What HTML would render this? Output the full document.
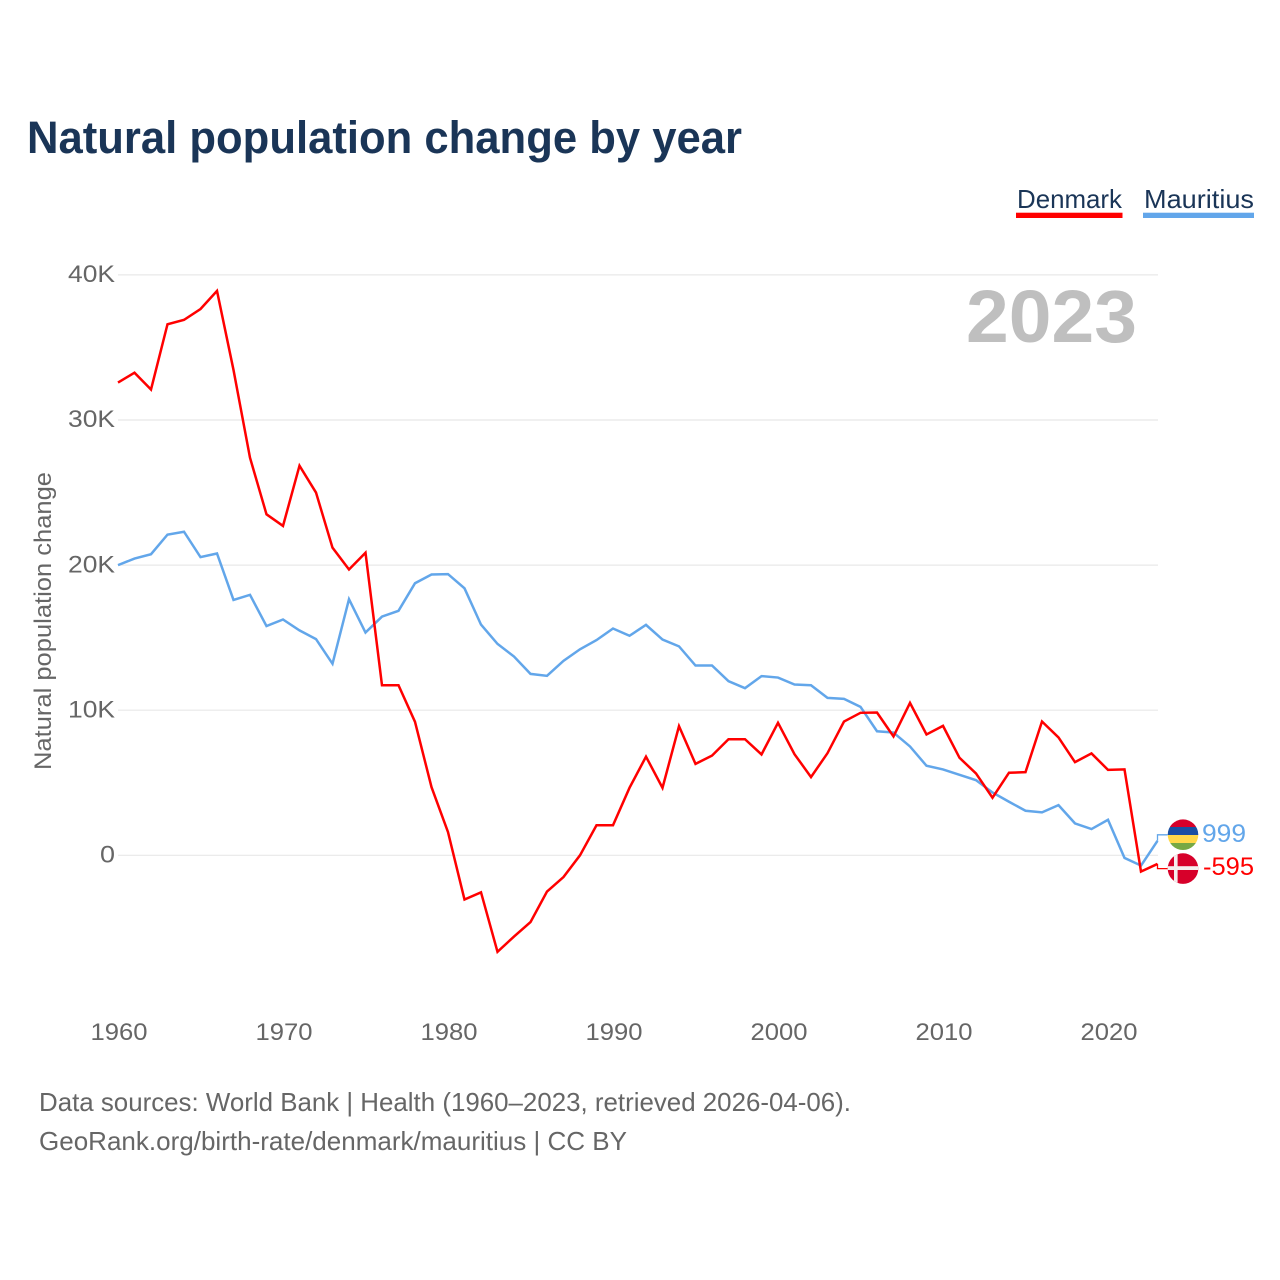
<!DOCTYPE html>
<html lang="en">
<head>
<meta charset="utf-8">
<title>Natural population change by year</title>
<style>
html,body{margin:0;padding:0;background:#fff;}
#chart{display:block;width:1280px;height:1280px;font-family:"Liberation Sans",sans-serif;}
</style>
</head>
<body>
<svg id="chart" xmlns="http://www.w3.org/2000/svg" width="1280" height="1280" viewBox="0 0 1280 1280">
  <defs>
    <clipPath id="clip-mu"><circle cx="1183" cy="834.7" r="15.3"/></clipPath>
    <clipPath id="clip-dk"><circle cx="1183" cy="868.6" r="15.3"/></clipPath>
  </defs>
  <rect width="1280" height="1280" fill="#ffffff"/>
  <text x="27" y="153" font-size="45" font-weight="700" fill="#1a3557" textLength="715" lengthAdjust="spacingAndGlyphs">Natural population change by year</text>

  <g id="grid"></g>
  <g id="y-axis"></g>
  <g id="x-axis"></g>

  <text x="1137" y="342" text-anchor="end" font-size="74" font-weight="700" fill="#bfbfbf" textLength="171" lengthAdjust="spacingAndGlyphs">2023</text>

  <text transform="translate(51,621) rotate(-90)" text-anchor="middle" font-size="24" fill="#666666" textLength="298" lengthAdjust="spacingAndGlyphs">Natural population change</text>

  <g id="series"></g>

  <g>
    <text x="1017" y="208" font-size="26" fill="#1a3557" textLength="105" lengthAdjust="spacingAndGlyphs">Denmark</text>
    <rect x="1016" y="212.7" width="106.5" height="5.3" fill="#ff0000"/>
  </g>
  <g>
    <text x="1144" y="208" font-size="26" fill="#1a3557" textLength="110" lengthAdjust="spacingAndGlyphs">Mauritius</text>
    <rect x="1143" y="212.7" width="111" height="5.3" fill="#62a6ea"/>
  </g>

  <g clip-path="url(#clip-mu)">
    <rect x="1166" y="819" width="34" height="8" fill="#d7002a"/>
    <rect x="1166" y="827" width="34" height="8" fill="#1a4fa3"/>
    <rect x="1166" y="835" width="34" height="8" fill="#ffd84a"/>
    <rect x="1166" y="843" width="34" height="8" fill="#76a844"/>
  </g>
  <g clip-path="url(#clip-dk)">
    <rect x="1166" y="852" width="34" height="33" fill="#d7002a"/>
    <rect x="1174" y="852" width="3.6" height="33" fill="#f4eeee"/>
    <rect x="1166" y="866.2" width="34" height="3.8" fill="#f4eeee"/>
  </g>
  <text id="label-mu" x="1202" y="842" font-size="25" fill="#62a6ea" textLength="44" lengthAdjust="spacingAndGlyphs">999</text>
  <text id="label-dk" x="1203" y="875" font-size="25" fill="#ff0000" textLength="51" lengthAdjust="spacingAndGlyphs">-595</text>

  <text x="39" y="1111" font-size="26" fill="#666666" textLength="812" lengthAdjust="spacingAndGlyphs">Data sources: World Bank | Health (1960–2023, retrieved 2026-04-06).</text>
  <text x="39" y="1150" font-size="26" fill="#666666" textLength="588" lengthAdjust="spacingAndGlyphs">GeoRank.org/birth-rate/denmark/mauritius | CC BY</text>
</svg>
<script>
const startYear = 1960;
const denmarkValues = [32.58,33.26,32.1,36.6,36.9,37.65,38.9,33.45,27.4,23.5,22.7,26.85,25.0,21.2,19.7,20.85,11.72,11.72,9.2,4.7,1.6,-3.05,-2.55,-6.65,-5.6,-4.6,-2.5,-1.5,0,2.07,2.07,4.65,6.8,4.65,8.9,6.3,6.87,8.0,8.0,6.95,9.13,6.97,5.39,7.04,9.22,9.82,9.84,8.19,10.5,8.33,8.92,6.72,5.64,3.97,5.69,5.73,9.22,8.12,6.42,7.02,5.89,5.92,-1.12,-0.595];
const mauritiusValues = [20.0,20.45,20.75,22.1,22.3,20.55,20.8,17.6,17.95,15.8,16.25,15.5,14.9,13.2,17.65,15.35,16.45,16.85,18.75,19.35,19.38,18.4,15.9,14.57,13.7,12.5,12.37,13.4,14.2,14.83,15.63,15.13,15.88,14.87,14.4,13.08,13.08,12.0,11.52,12.35,12.25,11.77,11.72,10.85,10.78,10.23,8.55,8.46,7.5,6.17,5.92,5.55,5.18,4.33,3.69,3.07,2.96,3.46,2.2,1.81,2.45,-0.18,-0.71,0.999];
const yTickValues = [0,10,20,30,40];
const yTickLabels = ["0","10K","20K","30K","40K"];
const xTickValues = [1960,1970,1980,1990,2000,2010,2020];
const xTickLabels = ["1960","1970","1980","1990","2000","2010","2020"];

const NS = 'http://www.w3.org/2000/svg';
function xScale(year){ return 118 + (year - 1960) * 16.5; }
function yScale(v){ return 855.3 - v * 14.51; }
function make(tag, attrs, parent){
  const el = document.createElementNS(NS, tag);
  for (const k in attrs) el.setAttribute(k, attrs[k]);
  parent.appendChild(el);
  return el;
}

const gridG = document.getElementById('grid');
const yG = document.getElementById('y-axis');
const xG = document.getElementById('x-axis');
const seriesG = document.getElementById('series');

yTickValues.forEach(function(v, i){
  const line = make('line', {x1:118, x2:1158, y1:yScale(v), y2:yScale(v), stroke:'#e8e8e8', 'stroke-width':1.2}, gridG);
  
  
  const label = yTickLabels[i];
  const t = make('text', {x:115, y:yScale(v)+7.2, 'text-anchor':'end', 'font-size':24, fill:'#666666',
    textLength: label.length === 1 ? 15 : 47, lengthAdjust:'spacingAndGlyphs'}, yG);
  
  
  t.textContent = label;
});

xTickValues.forEach(function(year, i){
  const t = make('text', {x:xScale(year)+1, y:1040, 'text-anchor':'middle', 'font-size':24, fill:'#666666',
    textLength:57, lengthAdjust:'spacingAndGlyphs'}, xG);
  
  
  t.textContent = xTickLabels[i];
});

function drawSeries(values, color, name, flagY){
  const pts = values.map(function(v, i){ return xScale(startYear + i).toFixed(2) + ',' + yScale(v).toFixed(2); });
  const lastX = xScale(startYear + values.length - 1);
  const conn = make('polyline', {
    points: lastX + ',' + yScale(values[values.length-1]) + ' ' + lastX + ',' + flagY + ' ' + (lastX + 10) + ',' + flagY,
    fill:'none', stroke:color, 'stroke-width':1.3}, seriesG);
  
  
  const line = make('polyline', {points: pts.join(' '), fill:'none', stroke:color, 'stroke-width':2.5, 'stroke-linejoin':'miter'}, seriesG);
  
  
}
drawSeries(mauritiusValues, '#62a6ea', 'series-line-mauritius', 834.8);
drawSeries(denmarkValues, '#ff0000', 'series-line-denmark', 868.6);
</script>
</body>
</html>
